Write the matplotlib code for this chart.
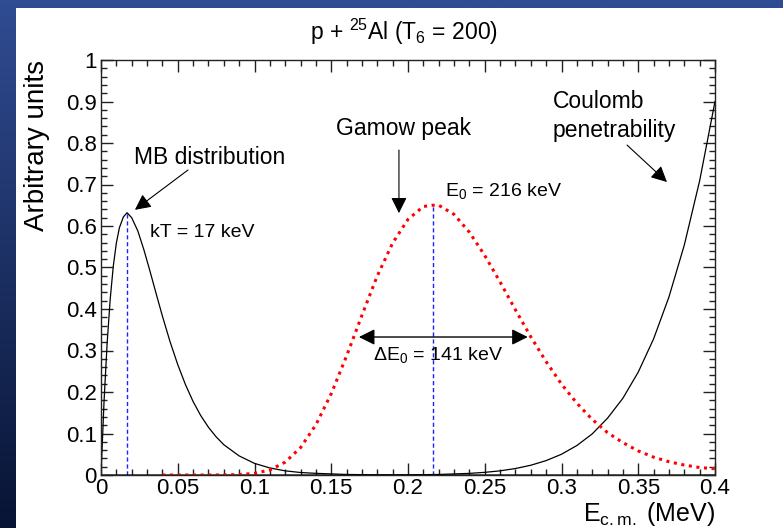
import numpy as np
import matplotlib
matplotlib.use('Agg')
import matplotlib.pyplot as plt
from matplotlib.patches import Rectangle
from matplotlib.ticker import MultipleLocator, AutoMinorLocator, FuncFormatter

plt.rcParams['font.family'] = ['Liberation Sans', 'DejaVu Sans']
plt.rcParams['mathtext.fontset'] = 'custom'
plt.rcParams['mathtext.rm'] = 'Liberation Sans'
plt.rcParams['mathtext.it'] = 'Liberation Sans:italic'

# Maxwell-Boltzmann curve (black)
mb_energy = [0, 0.002, 0.004, 0.006, 0.008, 0.010, 0.012, 0.0146, 0.017, 0.020,
             0.024, 0.028, 0.032, 0.036, 0.040, 0.045, 0.050, 0.055, 0.060, 0.065,
             0.070, 0.075, 0.080, 0.090, 0.100, 0.110, 0.120, 0.130, 0.140, 0.160,
             0.180, 0.200, 0.250, 0.300, 0.350, 0.400]
mb_value = [0, 0.179, 0.318, 0.424, 0.503, 0.559, 0.596, 0.622, 0.632, 0.620,
            0.588, 0.542, 0.490, 0.436, 0.383, 0.321, 0.266, 0.218, 0.177, 0.143,
            0.115, 0.092, 0.073, 0.046, 0.028, 0.017, 0.010, 0.006, 0.004, 0.0013,
            0.0004, 0.0001, 0, 0, 0, 0]

# Gamow peak (red dotted)
gamow_energy = [0.04, 0.05, 0.06, 0.07, 0.08, 0.09, 0.10, 0.11, 0.12, 0.13,
                0.14, 0.15, 0.16, 0.17, 0.18, 0.19, 0.20, 0.21, 0.216, 0.22,
                0.23, 0.24, 0.25, 0.26, 0.27, 0.28, 0.29, 0.30, 0.31, 0.32,
                0.33, 0.34, 0.35, 0.36, 0.37, 0.38, 0.39, 0.40]
gamow_value = [0, 0, 0, 0, 0.0002, 0.001, 0.004, 0.012, 0.031, 0.066,
               0.121, 0.196, 0.287, 0.385, 0.480, 0.559, 0.616, 0.647, 0.650, 0.650,
               0.628, 0.585, 0.529, 0.465, 0.398, 0.333, 0.273, 0.219, 0.173, 0.134,
               0.102, 0.078, 0.058, 0.043, 0.032, 0.024, 0.018, 0.015]

# Coulomb penetrability (black)
coulomb_energy = [0, 0.10, 0.15, 0.20, 0.22, 0.24, 0.25, 0.26, 0.27, 0.28,
                  0.29, 0.30, 0.31, 0.32, 0.33, 0.34, 0.35, 0.36, 0.37, 0.38,
                  0.39, 0.40]
coulomb_value = [0, 0, 0, 0.0004, 0.0013, 0.0039, 0.0064, 0.010, 0.0156, 0.0235,
                 0.0347, 0.050, 0.071, 0.099, 0.137, 0.185, 0.248, 0.328, 0.429, 0.554,
                 0.709, 0.900]

kT = 0.017
kT_peak = 0.632
E0 = 0.216
E0_peak = 0.650
dE0_left, dE0_right, dE0_level = 0.168, 0.278, 0.3325

W, H = 783, 528
fig = plt.figure(figsize=(W / 100, H / 100), dpi=100)

# blue slide background with white panel
bg = fig.add_axes([0, 0, 1, 1])
grad = np.linspace(0, 1, 256)[:, None]
top = np.array([48, 76, 146]) / 255
bottom = np.array([8, 20, 52]) / 255
img = top[None, None, :] * (1 - grad[:, :, None]) + bottom[None, None, :] * grad[:, :, None]
bg.imshow(img, aspect='auto', extent=[0, W, H, 0])
bg.add_patch(Rectangle((16, 8), W - 16, H - 8, facecolor='white', edgecolor='none'))
bg.set_xlim(0, W)
bg.set_ylim(H, 0)
bg.axis('off')

ax = fig.add_axes([101 / W, 1 - 475 / H, 614 / W, 415 / H])
ax.set_facecolor('white')

ax.plot([kT, kT], [0, kT_peak], color='#2020ff', lw=1, ls=(0, (3, 2)))
ax.plot([E0, E0], [0, E0_peak], color='#2020ff', lw=1, ls=(0, (3, 2)))
ax.plot(mb_energy, mb_value, color='black', lw=0.9)
ax.plot(coulomb_energy, coulomb_value, color='black', lw=0.9)
ax.plot(gamow_energy, gamow_value, color='red', lw=2.2, ls=(0, (1, 1.5)))

ax.set_xlim(0, 0.4)
ax.set_ylim(0, 1)
ax.xaxis.set_major_locator(MultipleLocator(0.05))
ax.xaxis.set_minor_locator(AutoMinorLocator(5))
ax.yaxis.set_major_locator(MultipleLocator(0.1))
ax.yaxis.set_minor_locator(AutoMinorLocator(5))
fmt = FuncFormatter(lambda v, p: '%g' % round(v, 3))
ax.xaxis.set_major_formatter(fmt)
ax.yaxis.set_major_formatter(fmt)
ax.tick_params(which='both', direction='in', top=True, right=True, width=1, color='#222222')
ax.tick_params(which='major', length=8.5, labelsize=16, pad=3)
ax.tick_params(axis='x', which='major', pad=2)
ax.tick_params(which='minor', length=4.3)
for s in ax.spines.values():
    s.set_linewidth(1)
    s.set_color('#222222')

arrow = dict(arrowstyle='-|>', color='black', lw=0.8, mutation_scale=24, shrinkA=0, shrinkB=0)
ax.annotate('', xy=(0.0221, 0.639), xytext=(0.0567, 0.735), arrowprops=arrow)
ax.annotate('', xy=(0.1941, 0.631), xytext=(0.1941, 0.783), arrowprops=arrow)
ax.annotate('', xy=(0.3687, 0.706), xytext=(0.3427, 0.795), arrowprops=arrow)
ax.annotate('', xy=(dE0_left, dE0_level), xytext=(dE0_right, dE0_level),
            arrowprops=dict(arrowstyle='<|-|>', color='black', lw=1, mutation_scale=24,
                            shrinkA=0, shrinkB=0))

ax.text(0.071, 0.764, 'MB distribution', fontsize=16.5, ha='center', va='center')
ax.text(0.0319, 0.585, 'kT = 17 keV', fontsize=14, ha='left', va='center')
ax.text(0.197, 0.836, 'Gamow peak', fontsize=16.5, ha='center', va='center')
ax.text(0.224, 0.684, r'E$_{\mathregular{0}}$ = 216 keV', fontsize=14, ha='left', va='center')
ax.text(0.177, 0.29, r'$\Delta$E$_{\mathregular{0}}$ = 141 keV', fontsize=14, ha='left', va='center')
ax.text(0.2945, 0.899, 'Coulomb', fontsize=16.5, ha='left', va='center')
ax.text(0.2945, 0.829, 'penetrability', fontsize=16.5, ha='left', va='center')

fig.text(404 / W, 1 - 32 / H, r'p + $\mathregular{^{25}}$Al (T$\mathregular{_{6}}$ = 200)',
         fontsize=16.5, ha='center', va='center')
fig.text(37 / W, 1 - 60 / H, 'Arbitrary units', fontsize=20, rotation=90,
         ha='center', va='top')
fig.text(715 / W, 0.5 / H, r'E$_{\mathregular{c.m.}}$ (MeV)', fontsize=18,
         ha='right', va='bottom')

fig.savefig('out.png', dpi=100)
